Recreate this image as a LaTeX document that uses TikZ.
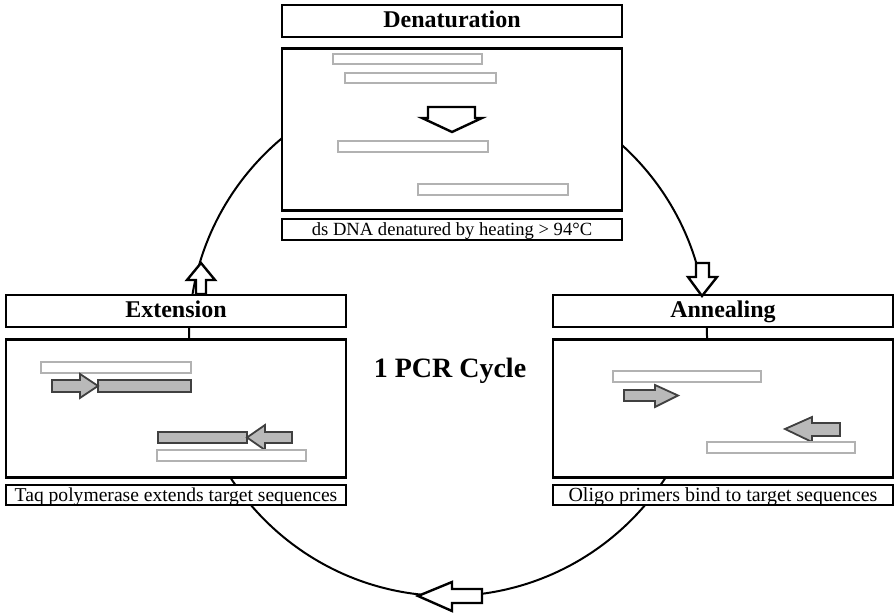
\documentclass[tikz,border=0pt]{standalone}
\usepackage{fontspec}
\setmainfont{Liberation Serif}
\usetikzlibrary{positioning}

\tikzset{
  panel/.style    = {draw, line width=1.2pt, fill=white, inner sep=0pt, minimum width=170pt},
  titlebox/.style = {panel, minimum height=16pt, text height=0.66em, text depth=0pt,
                     font=\bfseries\fontsize{12}{14}\selectfont},
  capbox/.style   = {panel, minimum height=10.5pt, text height=0.66em, text depth=0pt,
                     font=\fontsize{9.3}{10}\selectfont},
  strand/.style   = {draw=gray!60, line width=1.3pt, fill=white},
  newstrand/.style= {draw=gray!50!black, line width=0.9pt, fill=gray!55},
  bigarrow/.style = {draw, line width=1.2pt, fill=white, line join=miter},
  cycleline/.style= {line width=1pt}
}

\begin{document}
\begin{tikzpicture}[x=0.5pt, y=-0.5pt]

  \useasboundingbox (0,0) rectangle (894,613);

  % the cycle
  \coordinate (ctr) at (448,337);
  \draw[cycleline] (ctr) circle[radius=259];

  % Denaturation
  \node[titlebox] (dentitle) at (452,21) {Denaturation};
  \node[panel, minimum height=81pt, below=4.5pt of dentitle] (denbox) {};
  \node[capbox, below=3pt of denbox] (dencap) {ds DNA denatured by heating > 94°C};

  \begin{scope}[shift={(282,46)}]
    \draw[strand] (51, 8) rectangle (200, 18);
    \draw[strand] (63,27) rectangle (214,37);
    \draw[bigarrow] (146,61) -- (193,61) -- (193,72) -- (200,72) -- (170,86)
      -- (140,72) -- (146,72) -- cycle;
    \draw[strand] (56,95) rectangle (206,106);
    \draw[strand] (136,138) rectangle (286,149);
  \end{scope} % Denaturation

  % Annealing
  \node[titlebox] (anntitle) at (723,311) {Annealing};
  \node[panel, minimum height=69pt, below=5pt of anntitle] (annbox) {};
  \node[capbox, minimum height=10pt, font=\fontsize{10}{11}\selectfont,
        below=2.5pt of annbox] (anncap) {Oligo primers bind to target sequences};

  \begin{scope}[shift={(555,337)}]
    \draw[strand] (58,34) rectangle (206,45);
    \draw[newstrand] (69,53) -- (100,53) -- (100,48) -- (123,58.5) -- (100,70)
      -- (100,64) -- (69,64) -- cycle;
    \draw[newstrand] (285,86) -- (257,86) -- (257,80) -- (230,92) -- (257,105)
      -- (257,99) -- (285,99) -- cycle;
    \draw[strand] (152,105) rectangle (300,116);
  \end{scope} % Annealing

  % Extension
  \node[titlebox] (exttitle) at (176,311) {Extension};
  \node[panel, minimum height=69pt, below=5pt of exttitle] (extbox) {};
  \node[capbox, minimum height=10pt, font=\fontsize{9.8}{11}\selectfont,
        below=2.5pt of extbox] (extcap) {Taq polymerase extends target sequences};

  \begin{scope}[shift={(5,337)}]
    \draw[strand] (36,25) rectangle (186,36);
    \draw[newstrand] (93,43) rectangle (186,55);
    \draw[newstrand] (47,43) -- (75,43) -- (75,37) -- (93,49) -- (75,61)
      -- (75,55) -- (47,55) -- cycle;
    \draw[newstrand] (153,95) rectangle (242,106);
    \draw[newstrand] (287,95) -- (260,95) -- (260,88) -- (242,100.5) -- (260,113)
      -- (260,106) -- (287,106) -- cycle;
    \draw[strand] (152,113) rectangle (301,124);
  \end{scope} % Extension

  % direction of the cycle
  \draw[bigarrow] (696,263) -- (709,263) -- (709,277) -- (717,277) -- (702,296)
    -- (688,277) -- (696,277) -- cycle;
  \draw[bigarrow] (482,589) -- (452,589) -- (452,582) -- (418,596) -- (452,611)
    -- (452,603) -- (482,603) -- cycle;
  \draw[bigarrow] (196,294) -- (196,280) -- (187,280) -- (201,263) -- (215,280)
    -- (206,280) -- (206,294) -- cycle;

  \node[font=\bfseries\fontsize{14}{16}\selectfont] (cyclelabel) at (450,371) {1 PCR Cycle};

\end{tikzpicture}
\end{document}
